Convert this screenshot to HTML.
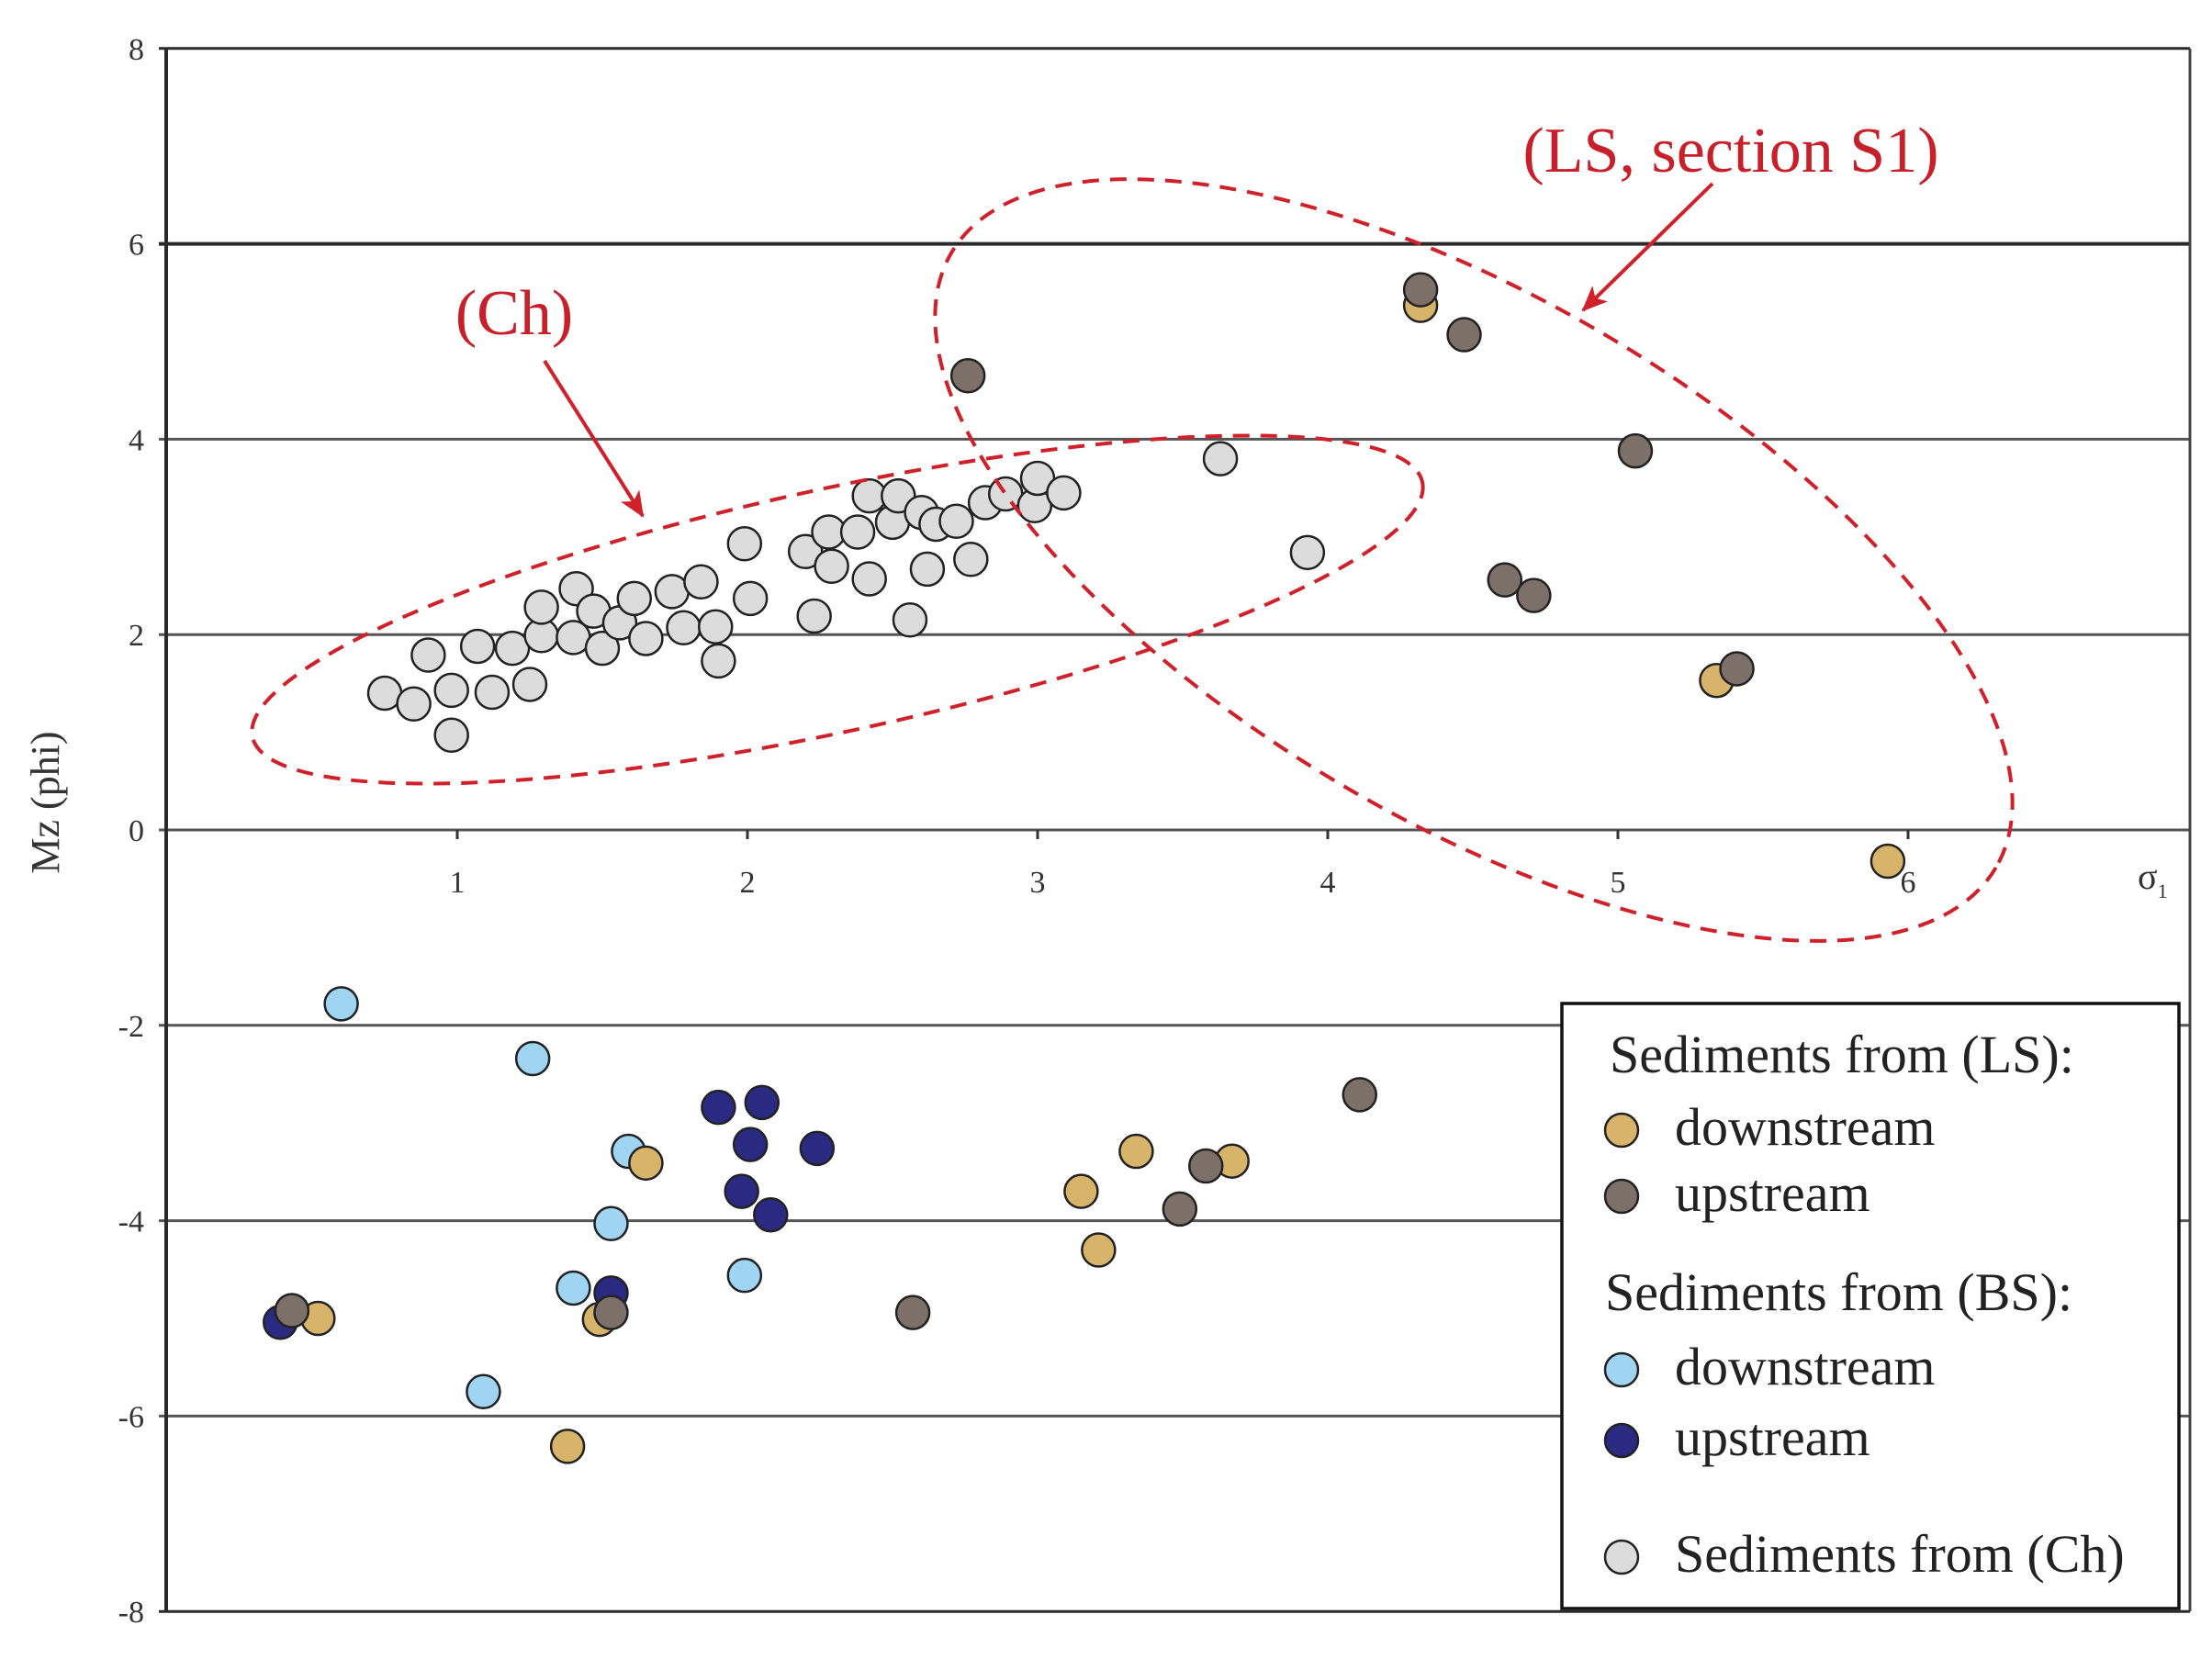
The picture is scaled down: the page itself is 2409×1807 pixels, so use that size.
<!DOCTYPE html>
<html><head><meta charset="utf-8"><style>
html,body{margin:0;padding:0;background:#fff;}
svg{display:block;font-family:"Liberation Serif",serif;}
</style></head><body>
<svg id="chart" width="2409" height="1807" viewBox="0 0 2409 1807">
<defs><marker id="ah" markerWidth="30" markerHeight="30" refX="26" refY="12" orient="auto" markerUnits="userSpaceOnUse"><path d="M0,0 L28,12 L0,24 L7,12 z" fill="#d0202a"/></marker></defs>
</svg>
<script>
const yTicks=[8,6,4,2,0,-2,-4,-6,-8];
const xTicks=[1,2,3,4,5,6];
const chX=[0.75,0.85,0.90,0.98,0.98,1.07,1.12,1.19,1.25,1.29,1.29,1.40,1.41,1.47,1.50,1.56,1.61,1.65,1.74,1.78,1.84,1.89,1.90,1.99,2.01,2.20,2.23,2.28,2.29,2.38,2.42,2.42,2.50,2.52,2.56,2.60,2.62,2.65,2.72,2.77,2.82,2.89,2.99,3.00,3.09,3.63,3.93];
const chY=[1.40,1.29,1.79,1.43,0.97,1.88,1.41,1.86,1.49,1.99,2.28,1.97,2.47,2.24,1.86,2.12,2.37,1.96,2.44,2.07,2.54,2.08,1.73,2.93,2.37,2.85,2.19,3.05,2.70,3.05,3.42,2.57,3.15,3.42,2.15,3.25,2.67,3.13,3.16,2.77,3.35,3.44,3.32,3.60,3.45,3.80,2.84];
const bsDownX=[0.60,1.26,1.59,1.53,1.40,1.99,1.09];
const bsDownY=[-1.78,-2.34,-3.29,-4.03,-4.69,-4.56,-5.75];
const bsUpX=[0.39,1.53,1.90,2.05,2.01,1.98,2.08,2.24];
const bsUpY=[-5.04,-4.74,-2.84,-2.79,-3.22,-3.70,-3.94,-3.26];
const lsDownX=[4.32,5.34,5.93,0.52,1.38,1.49,1.65,3.15,3.21,3.34,3.67];
const lsDownY=[5.37,1.53,-0.32,-5.0,-6.31,-5.01,-3.41,-3.70,-4.30,-3.29,-3.39];
const lsUpX=[2.76,4.32,4.47,5.06,4.61,4.71,5.41,0.43,1.53,2.57,3.49,3.58,4.11];
const lsUpY=[4.65,5.53,5.07,3.88,2.56,2.40,1.65,-4.92,-4.94,-4.94,-3.88,-3.44,-2.71];

const NS="http://www.w3.org/2000/svg";
const svg=document.getElementById('chart');
const X0=182,XS=316,Y0=904,YS=106.4,LEFT=181,RIGHT=2385,TOP=53,BOT=1755;
const sx=v=>X0+v*XS, sy=v=>Y0-v*YS;
function mk(tag,attrs,parent){const e=document.createElementNS(NS,tag);for(const k in attrs)e.setAttribute(k,attrs[k]);(parent||svg).appendChild(e);return e;}

yTicks.forEach(t=>{
  const l=mk('line',{x1:LEFT-8,x2:RIGHT,y1:sy(t),y2:sy(t),stroke:t===6||t===8||t===-8?'#2a2a2a':'#555',"stroke-width":t===6?4:3});
  
  
  const tx=mk('text',{x:157,y:sy(t)+12,"text-anchor":"end","font-size":34,fill:'#333'});
  tx.textContent=t;
  
  
});
const ya=mk('line',{x1:LEFT,x2:LEFT,y1:TOP,y2:BOT,stroke:'#2a2a2a',"stroke-width":4});


const rb=mk('line',{x1:RIGHT,x2:RIGHT,y1:TOP,y2:BOT,stroke:'#444',"stroke-width":3});


xTicks.forEach(t=>{
  const l=mk('line',{x1:sx(t),x2:sx(t),y1:Y0,y2:Y0+10,stroke:'#333',"stroke-width":3});
  
  
  const tx=mk('text',{x:sx(t),y:972,"text-anchor":"middle","font-size":34,fill:'#333'});
  tx.textContent=t;
  
  
});
const sg=mk('text',{x:2328,y:968,"font-size":40,fill:'#333'});
sg.innerHTML='σ<tspan font-size="22" dy="10">1</tspan>';


const yt=mk('text',{x:0,y:0,"font-size":44,fill:'#333',"text-anchor":"middle",transform:"translate(64,874) rotate(-90)"});
yt.textContent='Mz (phi)';



function series(xs,ys,fill,name){
  xs.forEach((x,i)=>{
    const c=mk('circle',{cx:sx(x),cy:sy(ys[i]),r:18,fill:fill,stroke:'#222',"stroke-width":2.5});
    
    
  });
}
series(chX,chY,'#dcdcdc','point-ch');
series(bsDownX,bsDownY,'#9fd4f2','point-bs-downstream');
series(bsUpX,bsUpY,'#2a2a82','point-bs-upstream');
series(lsDownX,lsDownY,'#d7b46a','point-ls-downstream');
series(lsUpX,lsUpY,'#7d7068','point-ls-upstream');

const e1=mk('ellipse',{cx:912,cy:664,rx:652,ry:132,fill:'none',stroke:'#d0202a',"stroke-width":4,"stroke-dasharray":"18 12",transform:"rotate(-12.3 912 664)"});


const e2=mk('ellipse',{cx:1605,cy:610,rx:660,ry:284,fill:'none',stroke:'#d0202a',"stroke-width":4,"stroke-dasharray":"18 12",transform:"rotate(30.5 1605 610)"});


const a1=mk('line',{x1:593,y1:393,x2:700,y2:562,stroke:'#d0202a',"stroke-width":4,"marker-end":"url(#ah)"});


const a2=mk('line',{x1:1865,y1:200,x2:1724,y2:338,stroke:'#d0202a',"stroke-width":4,"marker-end":"url(#ah)"});


const t1=mk('text',{x:560,y:364,"text-anchor":"middle","font-size":70,fill:'#c8202a'});
t1.textContent='(Ch)';


const t2=mk('text',{x:1885,y:187,"text-anchor":"middle","font-size":70,fill:'#c8202a'});
t2.textContent='(LS, section S1)';



const lg=mk('rect',{x:1701,y:1093,width:672,height:659,fill:'#fff',stroke:'#111',"stroke-width":3.5});


const legRows=[
 ['h','Sediments from (LS):',1168,null],
 ['e','downstream',1247,'#d7b46a'],
 ['e','upstream',1319,'#7d7068'],
 ['h','Sediments from (BS):',1427,null],
 ['e','downstream',1508,'#9fd4f2'],
 ['e','upstream',1585,'#2a2a82'],
 ['e','Sediments from (Ch)',1712,'#dcdcdc']];
legRows.forEach(r=>{
  if(r[0]==='h'){
    const t=mk('text',{x:r[1].indexOf('BS')>0?1748:1753,y:r[2],"font-size":58,fill:'#222'});
    t.textContent=r[1];
    
    
  } else {
    const c=mk('circle',{cx:1766,cy:r[2]-16,r:18,fill:r[3],stroke:'#222',"stroke-width":2.5});
    
    
    const t=mk('text',{x:1824,y:r[2],"font-size":58,fill:'#222'});
    t.textContent=r[1];
    
    
  }
});
</script>
</body></html>
